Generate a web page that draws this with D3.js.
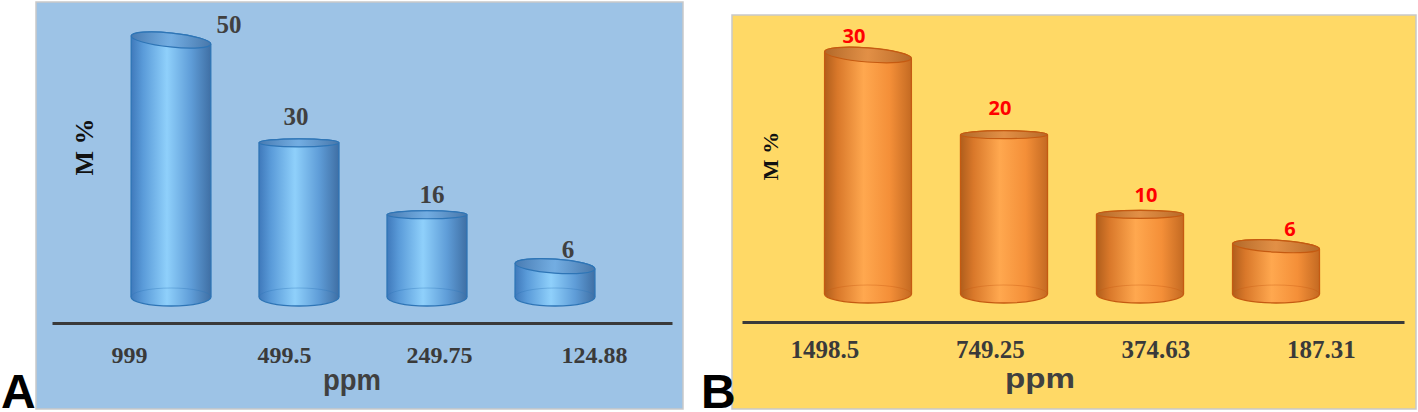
<!DOCTYPE html>
<html>
<head>
<meta charset="utf-8">
<script src="https://cdn.jsdelivr.net/npm/d3@7"></script>
<style>
  body { margin: 0; background: #fff; }
  svg { display: block; }
</style>
</head>
<body>
<div id="chart"></div>
<script>
// panel A data
const catsA = ["999", "499.5", "249.75", "124.88"];
const valsA = [50, 30, 16, 6];
// panel B data
const catsB = ["1498.5", "749.25", "374.63", "187.31"];
const valsB = [30, 20, 10, 6];
const yTitle = "M %";
const xTitle = "ppm";

const w = 1418;
const h = 412;

const svg = d3.select("#chart").
append("svg").
attr("width", w).
attr("height", h);

const defs = svg.append("defs");

function addGrad(id, stops) {
  const g = defs.append("linearGradient").
  attr("id", id).
  attr("x1", "0%").attr("x2", "100%").
  attr("y1", "0%").attr("y2", "0%");
  stops.forEach(s => g.append("stop").attr("offset", s[0]).attr("stop-color", s[1]));
}

addGrad("blueBody", [[0, "#3f79bb"], [0.15, "#5a9bd9"], [0.45, "#8fd0fb"], [0.75, "#5f9dd8"], [1, "#3f6fa4"]]);
addGrad("blueTop", [[0, "#4a7bb0"], [0.5, "#6fa8de"], [1, "#4a79ab"]]);
addGrad("orangeBody", [[0, "#b05e1c"], [0.15, "#d9782a"], [0.45, "#ffa84f"], [0.75, "#f48f38"], [1, "#c46a22"]]);
addGrad("orangeTop", [[0, "#b06a2c"], [0.5, "#dd8c45"], [1, "#b3692a"]]);

const panelA = {
  bg: "#9dc3e6", box: [36, 2, 683, 409],
  axisX: [52, 672], axisY: 323, tickY: 40, tickSize: 24,
  barRange: [83, 643], pad: 0.375, base: 297, top: 40,
  ryTop: [7, 4, 4, 7], ryBot: 9, tilt: [6, 0, 0, 4],
  body: "url(#blueBody)", topFill: "url(#blueTop)", stroke: "#2e75b6",
  lblDx: [58, -3, 5, 13], lblDy: [-7, -18, -12, -8],
  lblFont: "'Liberation Serif', 'Times New Roman', serif", lblSize: 25, lblColor: "#404040",
  yt: [84, 147, 26], xt: [352, 390, 30, 58],
  letter: ["A", 1]
};

const panelB = {
  bg: "#ffd966", box: [732, 15, 1416, 409],
  axisX: [742, 1404], axisY: 322, tickY: 36, tickSize: 25,
  barRange: [775.5, 1368.5], pad: 0.36, base: 294, top: 55,
  ryTop: [7, 4, 4, 6], ryBot: 9, tilt: [4.5, 0, 0, 3.5],
  body: "url(#orangeBody)", topFill: "url(#orangeTop)", stroke: "#c55a11",
  lblDx: [-14, -4, 6, 14], lblDy: [-12, -20, -12, -10],
  lblFont: "'Open Sans', 'Liberation Sans', sans-serif", lblSize: 20, lblColor: "#ff0000",
  yt: [770, 156, 22], xt: [1040, 388, 27, 70],
  letter: ["B", 701]
};

function drawPanel(cfg, cats, vals) {
  const g = svg.append("g");
  const b = cfg.box;

  g.append("rect").
  attr("x", b[0]).attr("y", b[1]).
  attr("width", b[2] - b[0]).attr("height", b[3] - b[1]).
  attr("fill", cfg.bg).
  attr("stroke", "#c9c9c9").
  attr("stroke-width", 1.5);

  // x axis with the category labels
  const xTick = d3.scaleBand().domain(cats).range(cfg.axisX);
  const xBar = d3.scaleBand().domain(cats).range(cfg.barRange).padding(cfg.pad);
  const y = d3.scaleLinear().domain([0, d3.max(vals)]).range([cfg.base, cfg.top]);

  const ax = g.append("g").
  attr("transform", "translate(0," + cfg.axisY + ")").
  call(d3.axisBottom(xTick).tickSize(0).tickSizeOuter(0));

  ax.select(".domain").attr("stroke", "#3a3a3a").attr("stroke-width", 3);
  ax.selectAll(".tick text").
  attr("y", cfg.tickY).
  attr("dy", 0).
  attr("font-family", "'Liberation Serif', 'Times New Roman', serif").
  attr("font-weight", "bold").
  attr("font-size", cfg.tickSize).
  attr("fill", "#3a3a3a");

  const bw = xBar.bandwidth();
  const rx = bw / 2;

  const bars = g.selectAll(".cyl").
  data(cats.map((c, i) => ({ c: c, v: vals[i], i: i }))).
  enter().
  append("g").
  attr("class", "cyl");

  bars.each(function (d) {
    const sel = d3.select(this);
    const cx = xBar(d.c) + rx;
    const ty = y(d.v);
    const by = y(0);
    const deg = cfg.tilt[d.i];
    const th = deg * Math.PI / 180;
    const ryT = cfg.ryTop[d.i];
    const ryB = cfg.ryBot;
    const lt = [cx - rx * Math.cos(th), ty - rx * Math.sin(th)];
    const rt = [cx + rx * Math.cos(th), ty + rx * Math.sin(th)];

    // body
    sel.append("path").
    attr("d", "M" + lt[0] + "," + lt[1] +
    "L" + (cx - rx) + "," + by +
    "A" + rx + "," + ryB + " 0 0 0 " + (cx + rx) + "," + by +
    "L" + rt[0] + "," + rt[1] +
    "A" + rx + "," + ryT + " " + deg + " 0 0 " + lt[0] + "," + lt[1] + "Z").
    attr("fill", cfg.body).
    attr("stroke", cfg.stroke).
    attr("stroke-width", 1.3);

    // back half of the bottom rim, seen through
    sel.append("path").
    attr("d", "M" + (cx - rx) + "," + by +
    "A" + rx + "," + ryB + " 0 0 1 " + (cx + rx) + "," + by).
    attr("fill", "none").
    attr("stroke", cfg.stroke).
    attr("stroke-opacity", 0.35).
    attr("stroke-width", 1);

    // top face
    sel.append("ellipse").
    attr("cx", cx).attr("cy", ty).
    attr("rx", rx).attr("ry", ryT).
    attr("transform", "rotate(" + deg + "," + cx + "," + ty + ")").
    attr("fill", cfg.topFill).
    attr("fill-opacity", 0.85).
    attr("stroke", cfg.stroke).
    attr("stroke-width", 1.2);

    sel.append("text").
    attr("x", cx + cfg.lblDx[d.i]).
    attr("y", ty + cfg.lblDy[d.i]).
    attr("text-anchor", "middle").
    attr("font-family", cfg.lblFont).
    attr("font-weight", "bold").
    attr("font-size", cfg.lblSize).
    attr("fill", cfg.lblColor).
    text(d.v);
  });

  g.append("text").
  attr("transform", "translate(" + cfg.yt[0] + "," + cfg.yt[1] + ") rotate(-90)").
  attr("text-anchor", "middle").
  attr("dominant-baseline", "central").
  attr("font-family", "'Liberation Serif', 'Times New Roman', serif").
  attr("font-weight", "bold").
  attr("font-size", cfg.yt[2]).
  attr("fill", "#111").
  text(yTitle);

  g.append("text").
  attr("x", cfg.xt[0]).
  attr("y", cfg.xt[1]).
  attr("text-anchor", "middle").
  attr("font-family", "'Liberation Sans', Arial, sans-serif").
  attr("font-weight", "bold").
  attr("font-size", cfg.xt[2]).
  attr("textLength", cfg.xt[3]).
  attr("lengthAdjust", "spacingAndGlyphs").
  attr("fill", "#404040").
  text(xTitle);

  // panel letter
  svg.append("text").
  attr("x", cfg.letter[1]).
  attr("y", 408).
  attr("font-family", "'Liberation Sans', Arial, sans-serif").
  attr("font-weight", "bold").
  attr("font-size", 48).
  attr("fill", "#000").
  text(cfg.letter[0]);
}

drawPanel(panelA, catsA, valsA);
drawPanel(panelB, catsB, valsB);
</script>
</body>
</html>
